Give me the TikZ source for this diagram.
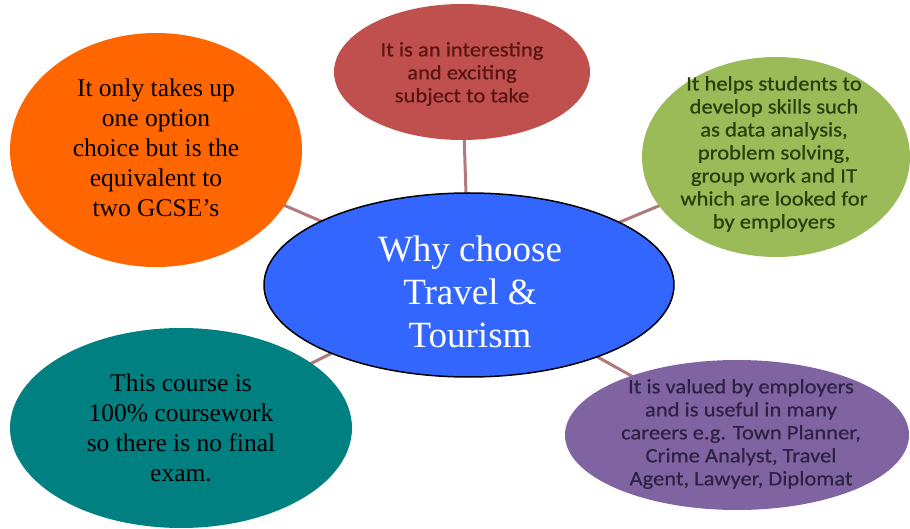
\documentclass[tikz,border=0pt]{standalone}
\usepackage{fontspec}
\setmainfont{Liberation Serif}
\newfontfamily\tnr{Liberation Serif}
\newfontfamily\carl[FakeStretch=1.1,FakeBold=0.6]{Carlito}
\usetikzlibrary{shapes.geometric}
\definecolor{corange}{HTML}{FF6600}
\definecolor{cteal}{HTML}{008080}
\definecolor{cblue}{HTML}{3366FF}
\definecolor{cred}{HTML}{C0504D}
\definecolor{cgreen}{HTML}{9BBB59}
\definecolor{cpurple}{HTML}{8064A2}
\definecolor{clink}{HTML}{B07A7C}
\definecolor{tred}{HTML}{5A1414}
\definecolor{tgreen}{HTML}{26400C}
\definecolor{tpurple}{HTML}{2E2244}
\tikzset{
  bubble/.style={ellipse, inner sep=0pt, draw=none},
  link/.style={draw=clink, line width=3pt},
  serifsmall/.style={align=center, font=\tnr\fontsize{25.5}{30}\selectfont, text=black},
  sanssmall/.style={align=center, font=\carl\fontsize{20.5}{23}\selectfont},
}
\begin{document}
\begin{tikzpicture}[x=1pt,y=-1pt]
\useasboundingbox (0,0) rectangle (910,529);
% coordinates of bubble centres
\coordinate (cc) at (469,285);
\coordinate (rc) at (462,72);
\coordinate (gc) at (776,157);
\coordinate (pc) at (737,435);
\coordinate (oc) at (156,150);
\coordinate (tc) at (181,428);
% connectors
\draw[link] (cc) -- (rc);
\draw[link] (cc) -- (gc);
\draw[link] (cc) -- (pc);
\draw[link] (cc) -- (oc);
\draw[link] (cc) -- (tc);
% bubbles
\node[bubble, fill=cred, minimum width=256pt, minimum height=136pt] (red) at (rc) {};
\node[bubble, fill=cgreen, minimum width=268pt, minimum height=200pt] (green) at (gc) {};
\node[bubble, fill=cpurple, minimum width=344pt, minimum height=150pt] (purple) at (pc) {};
\node[bubble, fill=corange, minimum width=292pt, minimum height=234pt] (orange) at (oc) {};
\node[bubble, fill=cteal, minimum width=342pt, minimum height=200pt] (teal) at (tc) {};
\node[bubble, fill=cblue, draw=black, line width=1.5pt, minimum width=410pt, minimum height=184pt] (centre) at (cc) {};
% texts
\node[sanssmall, text=tred] (redt) at (462,74) {It is an interesting\\and exciting\\subject to take};
\node[sanssmall, text=tgreen] (greent) at (774,154) {It helps students to\\develop skills such\\as data analysis,\\problem solving,\\group work and IT\\which are looked for\\by employers};
\node[sanssmall, text=tpurple] (purplet) at (741,434) {It is valued by employers\\and is useful in many\\careers e.g. Town Planner,\\Crime Analyst, Travel\\Agent, Lawyer, Diplomat};
\node[serifsmall] (oranget) at (156,148) {It only takes up\\one option\\choice but is the\\equivalent to\\two GCSE’s};
\node[serifsmall] (tealt) at (181,428) {This course is\\100\% coursework\\so there is no final\\exam.};
\node[align=center, text=white, font=\tnr\fontsize{37}{43}\selectfont] (centret) at (470,292) {Why choose\\Travel \&\\Tourism};
\end{tikzpicture}
\end{document}
